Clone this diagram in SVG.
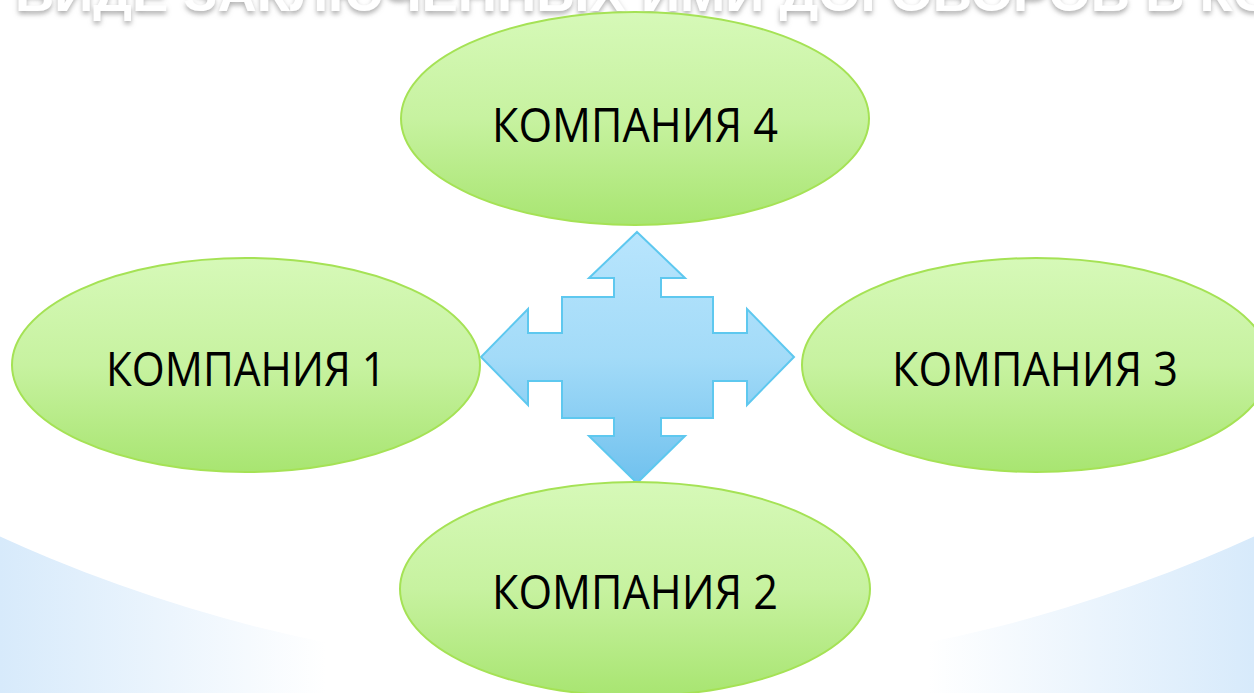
<svg xmlns="http://www.w3.org/2000/svg" width="1254" height="693" viewBox="0 0 1254 693">
  <defs>
    <linearGradient id="bg" x1="0" y1="0" x2="1" y2="0">
      <stop offset="0" stop-color="#d7eafb"/>
      <stop offset="0.26" stop-color="#ffffff"/>
      <stop offset="0.74" stop-color="#ffffff"/>
      <stop offset="1" stop-color="#d7eafb"/>
    </linearGradient>
    <linearGradient id="green" x1="0" y1="0" x2="0" y2="1">
      <stop offset="0" stop-color="#d6f9b8"/>
      <stop offset="0.5" stop-color="#c7f2a0"/>
      <stop offset="1" stop-color="#a8e571"/>
    </linearGradient>
    <linearGradient id="blue" x1="0" y1="0" x2="0" y2="1">
      <stop offset="0" stop-color="#b8e5fd"/>
      <stop offset="0.5" stop-color="#a3dbf8"/>
      <stop offset="1" stop-color="#70c1ee"/>
    </linearGradient>
    <filter id="shadow" x="-5%" y="-50%" width="110%" height="200%">
      <feDropShadow dx="0" dy="3" stdDeviation="2.5" flood-color="#8a8a8a" flood-opacity="0.7"/>
    </filter>
  </defs>
  <style>
    .node ellipse { fill: url(#green); stroke: #a5e255; stroke-width: 2; }
    .node text { font-family: "Open Sans", "Liberation Sans", sans-serif; font-size: 48px; fill: #000; text-anchor: middle; }
    .title { font-family: "Liberation Sans", "DejaVu Sans", sans-serif; font-weight: bold; font-size: 50px; fill: #ffffff; }
    .arrow { fill: url(#blue); stroke: #5ec8ef; stroke-width: 2; stroke-linejoin: miter; }
  </style>

  <rect x="0" y="0" width="1254" height="693" fill="url(#bg)"/>
  <circle cx="627" cy="-835" r="1508" fill="#ffffff"/>

  <text class="title" x="15" y="11" textLength="1260" lengthAdjust="spacingAndGlyphs" filter="url(#shadow)">ВИДЕ ЗАКЛЮЧЕННЫХ ИМИ ДОГОВОРОВ В КО</text>

  <g id="connectors">
    <path class="arrow" d="M637,232 L685,278 L661,278 L661,297 L713,297 L713,333 L747,333 L747,309 L794,357 L747,405 L747,381 L713,381 L713,418 L661,418 L661,436 L685,436 L637,483 L589,436 L614,436 L614,418 L562,418 L562,381 L528,381 L528,405 L481,357 L528,309 L528,333 L562,333 L562,297 L614,297 L614,278 L589,278 Z"/>
  </g>

  <g id="node-company4" class="node">
    <ellipse cx="635" cy="118.5" rx="234" ry="106.5"/>
    <text x="635" y="142" textLength="286" lengthAdjust="spacingAndGlyphs">КОМПАНИЯ 4</text>
  </g>
  <g id="node-company1" class="node">
    <ellipse cx="246" cy="365" rx="234" ry="107"/>
    <text x="246" y="386" textLength="280" lengthAdjust="spacingAndGlyphs">КОМПАНИЯ 1</text>
  </g>
  <g id="node-company3" class="node">
    <ellipse cx="1036" cy="365" rx="234" ry="107"/>
    <text x="1035" y="386" textLength="286" lengthAdjust="spacingAndGlyphs">КОМПАНИЯ 3</text>
  </g>
  <g id="node-company2" class="node">
    <ellipse cx="635" cy="589" rx="235" ry="107"/>
    <text x="635" y="609" textLength="286" lengthAdjust="spacingAndGlyphs">КОМПАНИЯ 2</text>
  </g>
</svg>
